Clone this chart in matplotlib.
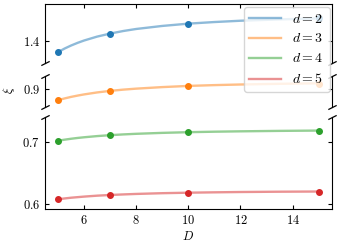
import numpy as np
import matplotlib
matplotlib.use('Agg')
import matplotlib.pyplot as plt
from matplotlib.lines import Line2D

plt.rcParams['font.family'] = 'serif'
plt.rcParams['font.serif'] = ['cmr10', 'DejaVu Serif']
plt.rcParams['mathtext.fontset'] = 'cm'
plt.rcParams['axes.formatter.use_mathtext'] = True
plt.rcParams['axes.unicode_minus'] = False
plt.rcParams['font.size'] = 9

# measured points
D = [5, 7, 10, 15]
xi2 = [1.382, 1.412, 1.428, 1.4365]
xi3 = [0.882, 0.897, 0.905, 0.908]
xi4 = [0.702, 0.711, 0.716, 0.718]
xi5 = [0.6076, 0.6145, 0.618, 0.620]

# fitted curves
Dfit = [5, 5.25, 5.5, 5.75, 6, 6.5, 7, 7.5, 8, 9, 10, 11, 12, 13.5, 15]
fit2 = [1.382, 1.3878, 1.3927, 1.3970, 1.4008, 1.4071, 1.412, 1.4161,
        1.4194, 1.4243, 1.428, 1.4306, 1.4327, 1.4349, 1.4365]
fit3 = [0.882, 0.8848, 0.8873, 0.8894, 0.8913, 0.8945, 0.897, 0.8990,
        0.9006, 0.9031, 0.905, 0.9063, 0.9073, 0.9084, 0.9092]
fit4 = [0.702, 0.7037, 0.7052, 0.7065, 0.7076, 0.7095, 0.711, 0.7122,
        0.7132, 0.7147, 0.7158, 0.7166, 0.7172, 0.7179, 0.7184]
fit5 = [0.6076, 0.6089, 0.6101, 0.6110, 0.6119, 0.6134, 0.6145, 0.6154,
        0.6162, 0.6174, 0.6182, 0.6188, 0.6193, 0.6198, 0.6201]

labels = ['$d = 2$', '$d = 3$', '$d = 4$', '$d = 5$']
colors = ['C0', 'C1', 'C2', 'C3']

fig = plt.figure(figsize=(3.4, 2.5), dpi=100)
W, H = 340., 250.
left, right = 45 / W, 331.7 / W
ax1 = fig.add_axes([left, 1 - 63 / H, right - left, 59 / H])
ax2 = fig.add_axes([left, 1 - 107 / H, right - left, 31 / H])
ax3 = fig.add_axes([left, 1 - 209 / H, right - left, 92 / H])

series = [(ax1, fit2, xi2), (ax2, fit3, xi3), (ax3, fit4, xi4), (ax3, fit5, xi5)]
for n, (ax, fy, py) in enumerate(series):
    ax.plot(Dfit, fy, '-', color=colors[n], alpha=0.5, lw=1.7)
    ax.plot(D, py, 'o', color=colors[n], ms=4)

ax1.set_ylim(1.3645, 1.4597)
ax2.set_ylim(0.8710, 0.9210)
ax3.set_ylim(0.5919, 0.7403)
ax1.set_yticks([1.4])
ax2.set_yticks([0.9])
ax3.set_yticks([0.6, 0.7])

for ax in (ax1, ax2, ax3):
    ax.set_xlim(4.5, 15.5)
    ax.set_xticks([6, 8, 10, 12, 14])
    ax.tick_params(direction='in', length=3, width=0.8, top=True, right=True)

ax1.spines['bottom'].set_visible(False)
ax1.tick_params(bottom=False, labelbottom=False)
ax2.spines['top'].set_visible(False)
ax2.spines['bottom'].set_visible(False)
ax2.tick_params(top=False, bottom=False, labelbottom=False)
ax3.spines['top'].set_visible(False)
ax3.tick_params(top=False)

# break marks
kw = dict(marker=[(-1, -0.5), (1, 0.5)], markersize=6, linestyle='none',
          color='k', mec='k', mew=0.9, clip_on=False)
ax1.plot([0, 1], [0, 0], transform=ax1.transAxes, **kw)
ax2.plot([0, 1], [1, 1], transform=ax2.transAxes, **kw)
ax2.plot([0, 1], [0, 0], transform=ax2.transAxes, **kw)
ax3.plot([0, 1], [1, 1], transform=ax3.transAxes, **kw)

ax3.set_xlabel('$D$', labelpad=2)
fig.text(9 / W, 1 - 90 / H, r'$\xi$', rotation=90, ha='center', va='center')

handles = [Line2D([], [], color=c, alpha=0.5, lw=1.7) for c in colors]
fig.legend(handles, labels, loc='upper right', bbox_to_anchor=(329.5 / W, 1 - 7 / H),
           borderaxespad=0, handlelength=2.3, fontsize=10)

fig.savefig('out.png', dpi=100)
